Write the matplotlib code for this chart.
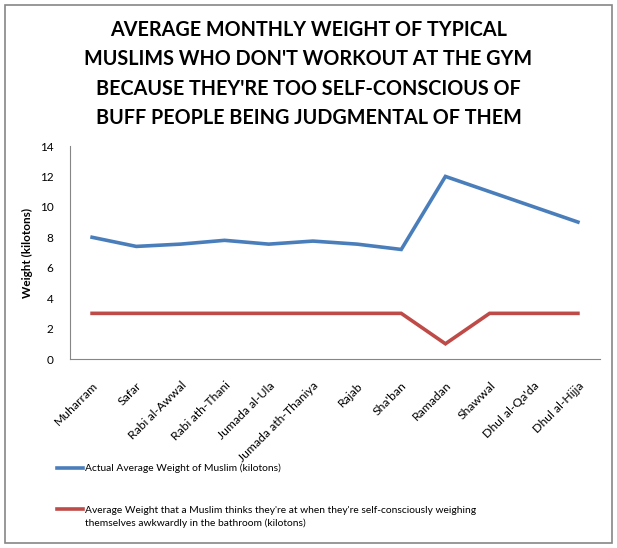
"""Poids mensuel moyen — reproduction d'un graphique de type Excel."""

import matplotlib

matplotlib.use("Agg")
import matplotlib.pyplot as plt  # noqa: E402
from matplotlib.lines import Line2D  # noqa: E402
from matplotlib.patches import Rectangle  # noqa: E402

months = [
    "Muharram", "Safar", "Rabi al-Awwal", "Rabi ath-Thani", "Jumada al-Ula",
    "Jumada ath-Thaniya", "Rajab", "Sha'ban", "Ramadan", "Shawwal",
    "Dhul al-Qa'da", "Dhul al-Hijja",
]
actual_weight = [8.0, 7.4, 7.55, 7.8, 7.55, 7.75, 7.55, 7.2, 12.0, 11.0, 10.0, 9.0]
perceived_weight = [3, 3, 3, 3, 3, 3, 3, 3, 1, 3, 3, 3]

label_actual = "Actual Average Weight of Muslim (kilotons)"
label_perceived = ("Average Weight that a Muslim thinks they're at when they're self-consciously weighing\n"
                   "themselves awkwardly in the bathroom (kilotons)")
title = ("AVERAGE MONTHLY WEIGHT OF TYPICAL\nMUSLIMS WHO DON'T WORKOUT AT THE GYM\n"
         "BECAUSE THEY'RE TOO SELF-CONSCIOUS OF\nBUFF PEOPLE BEING JUDGMENTAL OF THEM")

BLUE = "#4a7ebb"
RED = "#be4b48"
GRID = "#868686"
FONT = ["Lato", "DejaVu Sans"]

plt.rcParams["font.family"] = FONT

W, H = 617, 548
fig = plt.figure(figsize=(W / 100, H / 100), dpi=100)

# cadre extérieur
fig.patches.append(Rectangle((5 / W, 5 / H), 607 / W, 538 / H, transform=fig.transFigure,
                             fill=False, edgecolor=GRID, lw=1.2))

ax = fig.add_axes([70 / W, 1 - 359 / H, 530 / W, 213 / H])
x = list(range(len(months)))
ax.plot(x, actual_weight, color=BLUE, lw=2.6, solid_joinstyle="miter")
ax.plot(x, perceived_weight, color=RED, lw=2.6, solid_joinstyle="miter")

ax.set_xlim(-0.5, len(months) - 0.5)
ax.set_ylim(0, 14)
ax.set_yticks(range(0, 15, 2))
ax.set_xticks(x)
ax.set_xticklabels(months, rotation=45, ha="right", rotation_mode="anchor", fontsize=8.8)
ax.tick_params(axis="y", length=0, labelsize=8.5, colors="black", pad=12)
ax.tick_params(axis="x", length=0, colors="black", pad=15)
for side in ("top", "right"):
    ax.spines[side].set_visible(False)
for side in ("left", "bottom"):
    ax.spines[side].set_color(GRID)
ax.set_ylabel("Weight (kilotons)", fontsize=8.5, fontweight="bold", labelpad=5)

fig.text(0.5, 1 - 74 / H, title, ha="center", va="center", fontsize=14.2,
         fontweight="bold", linespacing=1.6)

# légende en bas
legend_items = [(468, BLUE, label_actual, 468), (509, RED, label_perceived, 517)]
for y_line, color, text, y_text in legend_items:
    fig.add_artist(Line2D([57 / W, 83 / W], [1 - y_line / H] * 2, color=color, lw=2.6,
                          transform=fig.transFigure))
    fig.text(85 / W, 1 - y_text / H, text, ha="left", va="center", fontsize=7.4,
             linespacing=1.45)

fig.savefig("out.png", dpi=100)
